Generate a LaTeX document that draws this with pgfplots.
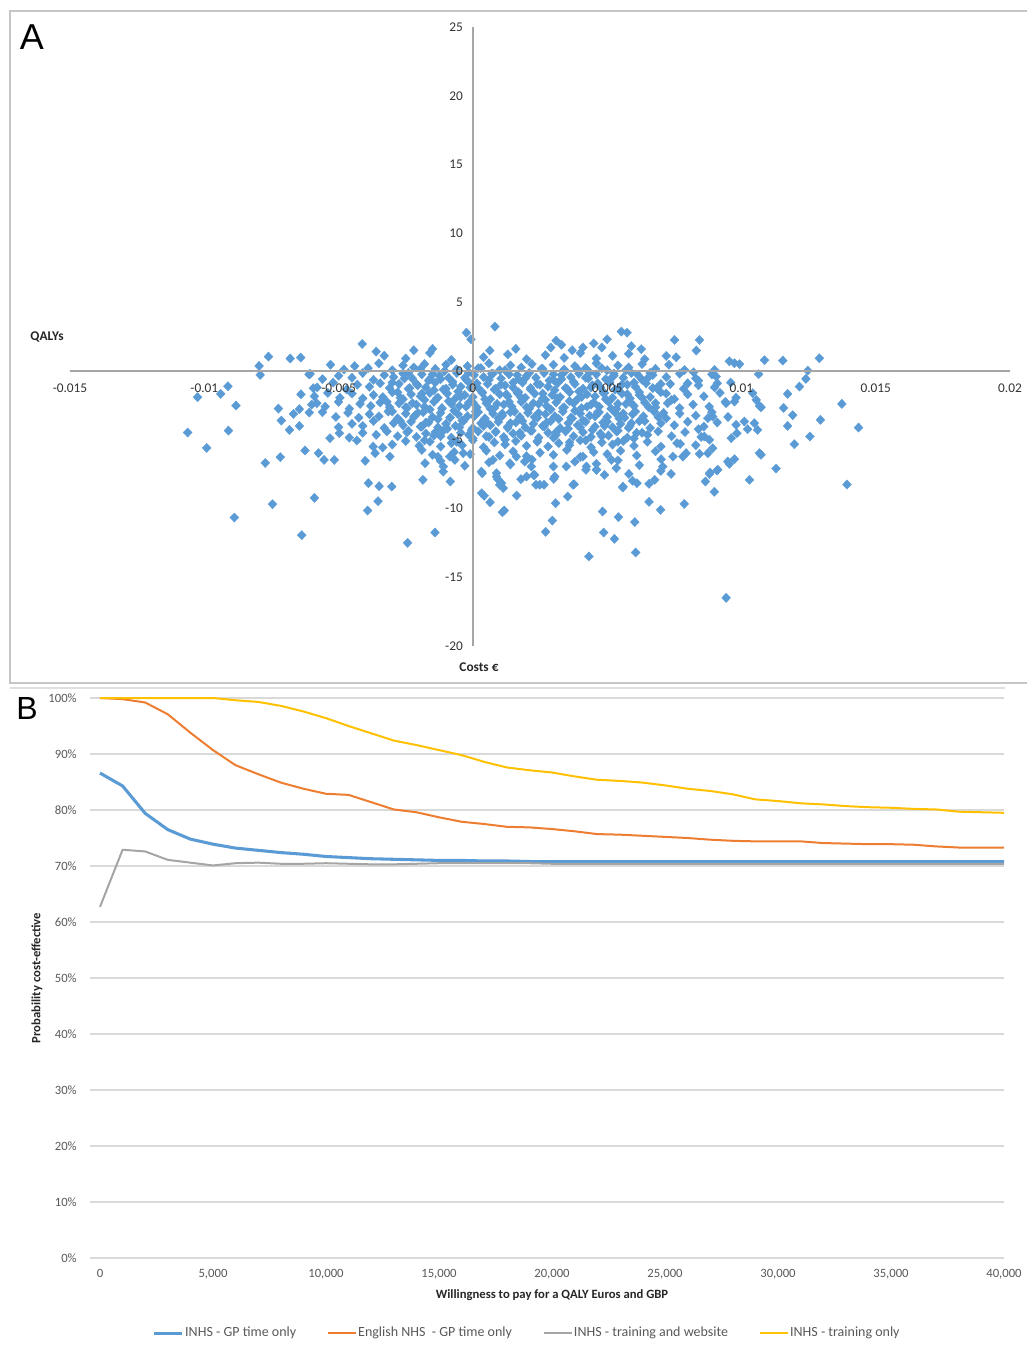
\documentclass[border=0pt]{standalone}
\usepackage{fontspec}
\setmainfont{Carlito}
\newfontfamily\labfont{Liberation Sans}
\usepackage{pgfplots}
\usepackage{pgfplotstable}
\pgfplotsset{compat=1.18}
\definecolor{sblue}{HTML}{5B9BD5}
\definecolor{sorange}{HTML}{ED7D31}
\definecolor{sgray}{HTML}{A5A5A5}
\definecolor{syellow}{HTML}{FFC000}
\definecolor{tickgray}{HTML}{595959}
\definecolor{gridgray}{HTML}{D9D9D9}
\definecolor{axgray}{HTML}{A6A6A6}

\pgfplotstableread{
w blue orange gray yellow
0 86.6 100.0 62.7 100.0
1000 84.3 99.8 72.9 100.0
2000 79.4 99.2 72.6 100.0
3000 76.5 97.1 71.1 100.0
4000 74.8 93.8 70.6 100.0
5000 73.9 90.7 70.1 100.0
6000 73.2 88.0 70.5 99.6
7000 72.8 86.4 70.6 99.3
8000 72.4 84.9 70.4 98.6
9000 72.1 83.8 70.4 97.6
10000 71.7 82.9 70.5 96.4
11000 71.5 82.7 70.4 95.0
12000 71.3 81.4 70.3 93.7
13000 71.2 80.1 70.3 92.4
14000 71.1 79.6 70.4 91.6
15000 71.0 78.7 70.5 90.7
16000 71.0 77.9 70.5 89.8
17000 70.9 77.5 70.5 88.6
18000 70.9 77.0 70.5 87.6
19000 70.8 76.9 70.5 87.1
20000 70.8 76.6 70.4 86.7
21000 70.8 76.2 70.4 86.0
22000 70.8 75.7 70.4 85.4
23000 70.8 75.6 70.4 85.2
24000 70.8 75.4 70.4 84.9
25000 70.8 75.2 70.4 84.4
26000 70.8 75.0 70.4 83.8
27000 70.8 74.7 70.4 83.4
28000 70.8 74.5 70.4 82.8
29000 70.8 74.4 70.4 81.9
30000 70.8 74.4 70.4 81.6
31000 70.8 74.4 70.4 81.2
32000 70.8 74.1 70.4 81.0
33000 70.8 74.0 70.4 80.7
34000 70.8 73.9 70.4 80.5
35000 70.8 73.9 70.4 80.4
36000 70.8 73.8 70.4 80.2
37000 70.8 73.5 70.4 80.1
38000 70.8 73.3 70.4 79.7
39000 70.8 73.3 70.4 79.6
40000 70.8 73.3 70.4 79.5
}\ceac

\pgfplotsset{panelA/.style={
  at={(52.5pt,-484.5pt)}, anchor=south west,
  scale only axis, width=705pt, height=464.25pt,
  xmin=-0.015, xmax=0.02, ymin=-20, ymax=25}}

\begin{document}
\begin{tikzpicture}
\begin{scope}[x=0.75pt,y=-0.75pt]
\path[use as bounding box] (0,0) rectangle (1023,1347);
\draw[gray!45, line width=1.1pt] (10,11) rectangle (1040,683);
\draw[gray!25, line width=0.8pt] (10,688) -- (1005,688);
\node[font=\labfont\fontsize{27}{30}\selectfont] at (32,37) {A};
\node[font=\labfont\fontsize{24}{28}\selectfont] at (27,708) {B};
\node[font=\fontsize{10}{12}\selectfont\bfseries, text=black!85] at (47,337) {QALYs};
\node[font=\fontsize{10}{12}\selectfont\bfseries, text=black!85] at (479,667) {Costs €};
\node[font=\fontsize{9.5}{11}\selectfont\bfseries, text=black!85] at (552,1295) {Willingness to pay for a QALY Euros and GBP};
\node[font=\fontsize{9.5}{11}\selectfont\bfseries, text=black!85, rotate=90] at (37,978) {Probability cost-effective};
\end{scope}

% Panel A: points
\begin{axis}[panelA, hide axis]
\addplot[only marks, mark=diamond*, mark size=3.5pt,
  mark options={fill=sblue, draw=sblue, line width=0.2pt, xscale=1.28}]
  table[x expr=\thisrow{x}/1000, y=y] {
x y
-5.3 0.45
-4.8 0.1
-4.4 0.35
-3.9 0.2
-3.5 0.55
-3.0 0.05
-2.6 0.4
-2.2 0.25
-1.8 0.5
-1.4 0.15
-1.0 0.45
-0.6 0.1
-0.2 0.35
0.2 0.2
0.6 0.55
1.0 0.05
1.4 0.4
1.8 0.25
2.2 0.5
2.6 0.15
3.0 0.45
3.4 0.1
3.8 0.35
4.2 0.2
4.6 0.55
5.0 0.05
5.4 0.4
5.8 0.25
6.3 0.5
6.8 0.15
7.3 0.45
-3.3 1.1
-2.5 0.9
-1.6 1.3
-0.8 0.8
0.4 1.0
1.3 1.2
2.0 0.85
2.7 1.15
3.4 0.95
4.0 1.3
4.6 0.9
5.2 1.1
5.8 1.25
6.4 0.85
-6.1 -0.25
-5.6 -0.6
-5.0 -0.35
-4.5 -0.5
-4.1 -0.15
-3.7 -0.65
-3.3 -0.3
-2.95 -0.45
-2.6 -0.2
-2.25 -0.55
-1.9 -0.25
-1.6 -0.6
-1.25 -0.35
-0.9 -0.5
-0.6 -0.15
-0.25 -0.65
0.05 -0.3
0.4 -0.45
0.7 -0.2
1.05 -0.55
1.35 -0.25
1.7 -0.6
2.0 -0.35
2.35 -0.5
2.65 -0.15
3.0 -0.65
3.3 -0.3
3.65 -0.45
3.95 -0.2
4.3 -0.55
4.6 -0.25
4.95 -0.6
5.25 -0.35
5.6 -0.5
5.9 -0.15
6.3 -0.65
6.7 -0.3
7.2 -0.45
7.7 -0.2
8.3 -0.55
8.9 -0.25
-5.8 -1.2
-5.2 -0.85
-4.7 -1.35
-4.3 -1.0
-3.85 -1.15
-3.45 -0.9
-3.1 -1.25
-2.75 -0.95
-2.4 -1.3
-2.05 -1.05
-1.75 -1.2
-1.4 -0.85
-1.1 -1.35
-0.75 -1.0
-0.45 -1.15
-0.1 -0.9
0.2 -1.25
0.55 -0.95
0.85 -1.3
1.2 -1.05
1.5 -1.2
1.85 -0.85
2.15 -1.35
2.5 -1.0
2.8 -1.15
3.15 -0.9
3.45 -1.25
3.8 -0.95
4.1 -1.3
4.45 -1.05
4.75 -1.2
5.1 -0.85
5.4 -1.35
5.75 -1.0
6.05 -1.15
6.45 -0.9
6.85 -1.25
7.35 -0.95
7.85 -1.3
8.4 -1.05
9.0 -1.2
9.6 -0.85
-6.4 -1.7
-5.9 -1.85
-5.4 -1.6
-4.95 -1.95
-4.5 -1.65
-4.1 -2.0
-3.7 -1.75
-3.35 -1.9
-3.0 -1.55
-2.6 -2.05
-2.3 -1.7
-1.95 -1.85
-1.6 -1.6
-1.3 -1.95
-0.95 -1.65
-0.65 -2.0
-0.3 -1.75
0.0 -1.9
0.35 -1.55
0.65 -2.05
1.0 -1.7
1.3 -1.85
1.65 -1.6
1.95 -1.95
2.3 -1.65
2.6 -2.0
2.95 -1.75
3.25 -1.9
3.6 -1.55
3.9 -2.05
4.25 -1.7
4.55 -1.85
4.9 -1.6
5.2 -1.95
5.55 -1.65
5.85 -2.0
6.2 -1.75
6.6 -1.9
7.0 -1.55
7.5 -2.05
8.0 -1.7
8.6 -1.85
9.2 -1.6
9.8 -1.95
-6.0 -2.45
-5.5 -2.6
-5.0 -2.25
-4.6 -2.75
-4.2 -2.4
-3.8 -2.55
-3.45 -2.3
-3.1 -2.65
-2.75 -2.35
-2.45 -2.7
-2.1 -2.45
-1.8 -2.6
-1.45 -2.25
-1.15 -2.75
-0.8 -2.4
-0.5 -2.55
-0.15 -2.3
0.15 -2.65
0.5 -2.35
0.8 -2.7
1.15 -2.45
1.45 -2.6
1.8 -2.25
2.1 -2.75
2.45 -2.4
2.75 -2.55
3.1 -2.3
3.4 -2.65
3.75 -2.35
4.05 -2.7
4.4 -2.45
4.7 -2.6
5.05 -2.25
5.35 -2.75
5.7 -2.4
6.0 -2.55
6.4 -2.3
6.8 -2.65
7.25 -2.35
7.7 -2.7
8.2 -2.45
8.8 -2.6
9.4 -2.25
-5.6 -3.0
-5.1 -3.35
-4.65 -3.05
-4.25 -3.4
-3.85 -3.15
-3.5 -3.3
-3.15 -2.95
-2.8 -3.45
-2.5 -3.1
-2.15 -3.25
-1.85 -3.0
-1.5 -3.35
-1.2 -3.05
-0.85 -3.4
-0.55 -3.15
-0.2 -3.3
0.1 -2.95
0.45 -3.45
0.75 -3.1
1.1 -3.25
1.4 -3.0
1.75 -3.35
2.05 -3.05
2.4 -3.4
2.7 -3.15
3.05 -3.3
3.35 -2.95
3.7 -3.45
4.0 -3.1
4.35 -3.25
4.65 -3.0
5.0 -3.35
5.3 -3.05
5.65 -3.4
5.95 -3.15
6.35 -3.3
6.75 -2.95
7.2 -3.45
7.7 -3.1
8.3 -3.25
8.9 -3.0
9.5 -3.35
-5.0 -4.1
-4.5 -3.85
-4.1 -4.0
-3.7 -3.65
-3.3 -4.15
-2.95 -3.8
-2.6 -3.95
-2.3 -3.7
-1.95 -4.05
-1.65 -3.75
-1.3 -4.1
-1.0 -3.85
-0.65 -4.0
-0.35 -3.65
0.0 -4.15
0.3 -3.8
0.65 -3.95
0.95 -3.7
1.3 -4.05
1.6 -3.75
1.95 -4.1
2.25 -3.85
2.6 -4.0
2.9 -3.65
3.25 -4.15
3.55 -3.8
3.9 -3.95
4.2 -3.7
4.55 -4.05
4.85 -3.75
5.2 -4.1
5.5 -3.85
5.85 -4.0
6.2 -3.65
6.6 -4.15
7.0 -3.8
7.5 -3.95
8.0 -3.7
8.6 -4.05
9.1 -3.75
-4.6 -4.85
-4.1 -4.5
-3.6 -4.65
-3.2 -4.4
-2.8 -4.75
-2.45 -4.45
-2.1 -4.8
-1.75 -4.55
-1.45 -4.7
-1.1 -4.35
-0.8 -4.85
-0.45 -4.5
-0.15 -4.65
0.2 -4.4
0.5 -4.75
0.85 -4.45
1.15 -4.8
1.5 -4.55
1.8 -4.7
2.15 -4.35
2.45 -4.85
2.8 -4.5
3.1 -4.65
3.45 -4.4
3.75 -4.75
4.1 -4.45
4.4 -4.8
4.75 -4.55
5.05 -4.7
5.4 -4.35
5.75 -4.85
6.1 -4.5
6.5 -4.65
6.9 -4.4
7.4 -4.75
7.9 -4.45
8.5 -4.8
-3.0 -5.35
-2.5 -5.1
-2.0 -5.45
-1.6 -5.15
-1.2 -5.5
-0.8 -5.25
-0.4 -5.4
0.0 -5.05
0.4 -5.55
0.8 -5.2
1.2 -5.35
1.6 -5.1
2.0 -5.45
2.4 -5.15
2.8 -5.5
3.2 -5.25
3.6 -5.4
4.0 -5.05
4.4 -5.55
4.8 -5.2
5.2 -5.35
5.6 -5.1
6.0 -5.45
6.5 -5.15
7.0 -5.5
7.6 -5.25
8.3 -5.4
-1.9 -5.75
-1.3 -6.25
-0.7 -5.9
-0.1 -6.05
0.5 -5.8
1.0 -6.15
1.5 -5.85
2.0 -6.2
2.5 -5.95
3.0 -6.1
3.5 -5.75
4.0 -6.25
4.5 -5.9
5.0 -6.05
5.5 -5.8
6.1 -6.15
6.8 -5.85
-1.2 -6.55
-0.3 -6.9
0.6 -6.65
1.4 -6.8
2.2 -6.45
3.0 -6.95
3.8 -6.6
4.6 -6.75
5.4 -6.5
6.2 -6.85
-2.4 -0.15
-1.95 0.15
-1.5 -0.25
-1.05 0.0
-0.6 0.1
-0.15 -0.1
0.3 0.2
0.75 -0.2
1.2 0.05
1.65 -0.3
2.1 -0.15
2.55 0.15
3.0 -0.25
3.45 0.0
3.9 0.1
4.35 -0.1
4.8 0.2
5.25 -0.2
5.7 0.05
6.15 -0.3
6.6 -0.15
-3.0 -0.85
-2.55 -0.55
-2.1 -0.95
-1.65 -0.7
-1.2 -0.6
-0.75 -0.8
-0.3 -0.5
0.15 -0.9
0.6 -0.65
1.05 -1.0
1.5 -0.85
1.95 -0.55
2.4 -0.95
2.85 -0.7
3.3 -0.6
3.75 -0.8
4.2 -0.5
4.65 -0.9
5.1 -0.65
5.55 -1.0
6.0 -0.85
6.5 -0.55
7.0 -0.95
-2.8 -1.55
-2.35 -1.25
-1.9 -1.65
-1.45 -1.4
-1.0 -1.3
-0.55 -1.5
-0.1 -1.2
0.35 -1.6
0.8 -1.35
1.25 -1.7
1.7 -1.55
2.15 -1.25
2.6 -1.65
3.05 -1.4
3.5 -1.3
3.95 -1.5
4.4 -1.2
4.85 -1.6
5.3 -1.35
5.75 -1.7
6.2 -1.55
6.7 -1.25
7.2 -1.65
-3.2 -2.25
-2.7 -1.95
-2.25 -2.35
-1.8 -2.1
-1.35 -2.0
-0.9 -2.2
-0.45 -1.9
0.0 -2.3
0.45 -2.05
0.9 -2.4
1.35 -2.25
1.8 -1.95
2.25 -2.35
2.7 -2.1
3.15 -2.0
3.6 -2.2
4.05 -1.9
4.5 -2.3
4.95 -2.05
5.4 -2.4
5.85 -2.25
6.3 -1.95
6.8 -2.35
7.4 -2.1
-3.0 -2.95
-2.5 -2.65
-2.05 -3.05
-1.6 -2.8
-1.15 -2.7
-0.7 -2.9
-0.25 -2.6
0.2 -3.0
0.65 -2.75
1.1 -3.1
1.55 -2.95
2.0 -2.65
2.45 -3.05
2.9 -2.8
3.35 -2.7
3.8 -2.9
4.25 -2.6
4.7 -3.0
5.15 -2.75
5.6 -3.1
6.05 -2.95
6.55 -2.65
7.1 -3.05
-2.7 -3.65
-2.2 -3.35
-1.75 -3.75
-1.3 -3.5
-0.85 -3.4
-0.4 -3.6
0.05 -3.3
0.5 -3.7
0.95 -3.45
1.4 -3.8
1.85 -3.65
2.3 -3.35
2.75 -3.75
3.2 -3.5
3.65 -3.4
4.1 -3.6
4.55 -3.3
5.0 -3.7
5.45 -3.45
5.9 -3.8
6.4 -3.65
6.9 -3.35
-2.4 -4.35
-1.9 -4.05
-1.4 -4.45
-0.95 -4.2
-0.5 -4.1
-0.05 -4.3
0.4 -4.0
0.85 -4.4
1.3 -4.15
1.75 -4.5
2.2 -4.35
2.65 -4.05
3.1 -4.45
3.55 -4.2
4.0 -4.1
4.45 -4.3
4.9 -4.0
5.35 -4.4
5.8 -4.15
6.3 -4.5
-1.8 -5.05
-1.2 -4.75
-0.6 -5.15
0.0 -4.9
0.6 -4.8
1.2 -5.0
1.8 -4.7
2.4 -5.1
3.0 -4.85
3.6 -5.2
4.2 -5.05
4.8 -4.75
5.4 -5.15
6.0 -4.9
-4.12 1.96
-7.61 1.04
-7.96 0.36
-7.92 -0.29
-6.80 0.90
-6.41 0.97
-0.24 2.78
-0.07 2.30
0.82 3.22
0.63 1.48
3.1 2.2
3.3 1.9
2.9 1.7
4.5 2.0
5.0 2.3
5.53 2.86
5.74 2.78
4.8 1.7
5.9 1.8
6.27 1.58
7.20 1.09
7.51 2.25
7.57 0.99
8.32 1.48
8.44 2.25
9.55 0.70
9.74 0.56
9.93 0.49
10.86 0.78
11.54 0.75
12.90 0.92
-3.6 1.4
-2.2 1.5
-1.5 1.6
1.6 1.6
3.7 1.5
4.1 1.7
-10.25 -1.91
-9.39 -1.67
-9.12 -1.12
-8.82 -2.52
-10.62 -4.48
-9.91 -5.60
-9.10 -4.34
-7.73 -6.69
-7.17 -6.27
-7.24 -2.74
-7.13 -3.61
-6.68 -3.13
-6.46 -2.78
-6.83 -4.29
-6.46 -4.00
-6.25 -5.79
-5.75 -5.98
-5.54 -6.47
-5.16 -6.47
-4.01 -6.54
-4.32 -5.06
-5.32 -4.89
-4.97 -4.53
-3.64 -5.98
-3.09 -6.23
-3.71 -5.50
-3.36 -5.57
-6.06 -0.22
-5.94 -1.26
-5.81 -2.35
-6.09 -3.03
-8.88 -10.66
-7.46 -9.69
-5.90 -9.23
-6.37 -11.94
-3.92 -10.15
-3.53 -9.47
-3.89 -8.16
-3.49 -8.38
-3.02 -8.41
-2.43 -12.5
-1.41 -11.75
-1.86 -7.92
-0.84 -8.04
-1.10 -7.32
0.35 -7.44
0.33 -8.89
0.42 -9.08
0.64 -9.55
0.88 -7.44
0.93 -7.87
1.00 -8.28
1.13 -8.52
1.17 -10.15
1.10 -10.27
1.63 -9.06
1.79 -7.87
2.26 -7.58
2.35 -8.28
2.65 -8.28
3.01 -7.85
3.08 -9.62
3.53 -9.13
3.77 -8.24
2.96 -10.88
2.71 -11.70
4.32 -13.49
4.21 -7.19
4.61 -7.19
4.90 -7.56
4.83 -10.22
4.87 -11.75
5.27 -12.21
5.42 -10.63
5.58 -8.48
5.81 -7.49
5.95 -7.99
6.11 -8.16
6.03 -10.99
6.06 -13.2
6.56 -8.21
6.77 -7.92
6.56 -9.52
6.99 -10.10
7.00 -7.27
7.38 -7.49
7.87 -9.67
8.66 -8.04
8.83 -7.39
8.99 -8.79
9.09 -7.24
9.43 -16.5
-1.78 -6.71
-1.50 -6.10
-1.10 -6.95
-0.86 -6.23
-0.67 -6.47
-0.36 -5.98
0.32 -7.32
0.75 -6.47
0.88 -7.68
1.07 -8.16
1.38 -6.71
1.62 -6.23
1.93 -6.59
2.00 -7.68
2.18 -6.95
2.30 -7.56
2.49 -8.28
3.05 -7.68
3.48 -6.95
3.73 -8.28
4.10 -6.23
4.23 -6.95
4.60 -7.19
5.16 -6.47
5.34 -7.07
5.59 -8.41
12.47 0.02
12.40 -0.58
12.16 -1.14
11.72 -1.67
11.57 -2.69
11.91 -3.22
11.72 -4.00
12.94 -3.56
12.55 -4.77
11.97 -5.33
11.29 -7.10
10.30 -7.92
13.74 -2.40
14.36 -4.12
13.93 -8.26
10.64 -0.24
9.00 0.07
9.06 -0.41
9.10 -0.90
10.42 -1.62
10.55 -2.11
10.67 -2.54
10.73 -2.64
10.11 -3.68
10.23 -4.24
10.48 -3.80
10.60 -4.29
10.67 -5.98
10.73 -6.10
9.80 -3.92
9.83 -4.53
9.62 -4.89
9.74 -6.42
9.49 -6.59
9.55 -6.76
9.43 -2.35
9.74 -2.23
8.75 -3.44
8.93 -3.32
8.62 -4.77
8.81 -5.01
8.93 -5.62
8.75 -5.98
8.44 -6.03
9.12 -7.19
8.81 -7.49
8.40 -4.24
7.45 -6.23
7.01 -6.42
7.07 -6.96
7.82 -6.23
7.94 -5.98
7.72 -5.31
8.00 -0.90
8.40 -0.71
8.22 -0.10
7.88 0.07
};
\end{axis}

% Panel A: axes, ticks and labels drawn over the points
\begin{axis}[panelA,
  axis lines=middle,
  axis line style={draw=axgray, line width=1.1pt, -},
  major tick length=0pt,
  scaled x ticks=false, scaled y ticks=false,
  hide obscured x ticks=false, hide obscured y ticks=false,
  xtick={-0.015,-0.01,-0.005,0,0.005,0.01,0.015,0.02},
  xticklabels={-0.015,-0.01,-0.005,0,0.005,0.01,0.015,0.02},
  ytick={-20,-15,-10,-5,0,5,10,15,20,25},
  yticklabels={-20,-15,-10,-5,0,5,10,15,20,25},
  tick label style={font=\fontsize{10}{12}\selectfont, text=black!80},
  xticklabel style={anchor=north, yshift=-6pt},
  yticklabel style={anchor=east, xshift=-4pt},
]
\end{axis}

% Panel B
\begin{axis}[
  at={(67.5pt,-943.5pt)}, anchor=south west,
  scale only axis, width=685.5pt, height=420pt,
  xmin=-442, xmax=40000, ymin=0, ymax=100,
  axis line style={draw=none},
  major tick length=0pt,
  scaled x ticks=false, scaled y ticks=false,
  ymajorgrids, grid style={draw=gridgray, line width=0.8pt},
  xtick={0,5000,10000,15000,20000,25000,30000,35000,40000},
  xticklabels={0,{5,000},{10,000},{15,000},{20,000},{25,000},{30,000},{35,000},{40,000}},
  ytick={0,10,20,30,40,50,60,70,80,90,100},
  yticklabels={0\%,10\%,20\%,30\%,40\%,50\%,60\%,70\%,80\%,90\%,100\%},
  tick label style={font=\fontsize{9.5}{11}\selectfont, text=tickgray},
  xticklabel style={yshift=-5pt},
  yticklabel style={xshift=-6.4pt},
  clip=false,
  legend columns=4,
  legend cell align=left,
  legend style={at={(0.478,-0.134)}, anchor=center, draw=none, fill=none,
    font=\fontsize{10.5}{12}\selectfont, text=tickgray,
    nodes={inner sep=1pt},
    /tikz/every even column/.append style={column sep=22pt}},
  legend image code/.code={\draw[#1] (0pt,0pt) -- (21pt,0pt);},
]
\addplot[sblue, line width=2.3pt] table[x=w, y=blue] {\ceac};
\addlegendentry{INHS - GP time only}
\addplot[sorange, line width=1.5pt] table[x=w, y=orange] {\ceac};
\addlegendentry{English NHS \ - GP time only}
\addplot[sgray, line width=1.5pt] table[x=w, y=gray] {\ceac};
\addlegendentry{INHS - training and website}
\addplot[syellow, line width=1.5pt] table[x=w, y=yellow] {\ceac};
\addlegendentry{INHS - training only}
\end{axis}
\end{tikzpicture}
\end{document}
